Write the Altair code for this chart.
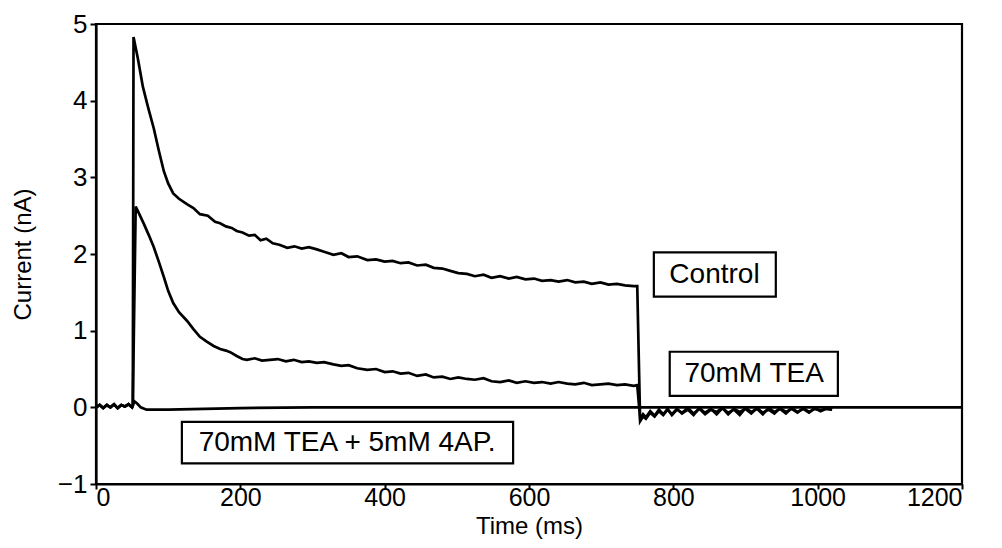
import altair as alt
import pandas as pd

# ---- data ----
base_t = [0, 5, 10, 15, 20, 25, 30, 35, 40, 45, 50]
base_v = [0.0, 0.03, -0.01, 0.03, 0.0, 0.04, -0.01, 0.03, 0.01, 0.04, 0.0]

ctrl_t = [51, 52, 58, 65, 72, 80, 87, 94, 100, 107, 115, 126, 135, 144, 155, 165, 172, 180,
          188, 195, 203, 212, 220, 228, 236, 245, 254, 265, 275, 285, 295, 306, 316, 329,
          340, 350, 362, 376, 388, 400, 411, 422, 433, 445, 457, 468, 480, 491, 502, 514,
          525, 537, 548, 560, 572, 583, 595, 607, 618, 630, 641, 653, 664, 676, 687, 699,
          710, 722, 733, 745, 750]
ctrl_v = [0.02, 4.83, 4.55, 4.18, 3.92, 3.64, 3.35, 3.08, 2.92, 2.79, 2.72, 2.65, 2.60, 2.52,
          2.50, 2.42, 2.40, 2.36, 2.34, 2.30, 2.28, 2.24, 2.25, 2.18, 2.20, 2.14, 2.12, 2.08,
          2.10, 2.07, 2.09, 2.06, 2.03, 1.99, 2.01, 1.96, 1.97, 1.92, 1.93, 1.90, 1.91, 1.88,
          1.89, 1.85, 1.86, 1.82, 1.81, 1.78, 1.75, 1.74, 1.71, 1.73, 1.69, 1.71, 1.68, 1.70,
          1.67, 1.68, 1.65, 1.66, 1.64, 1.66, 1.63, 1.64, 1.61, 1.63, 1.60, 1.61, 1.59, 1.58,
          1.58]

tea_t = [51, 55, 60, 66, 73, 80, 87, 94, 100, 107, 115, 126, 135, 144, 153, 163, 172, 180,
         186, 195, 203, 209, 220, 230, 241, 252, 263, 274, 285, 295, 306, 316, 329, 340, 350,
         362, 376, 388, 400, 411, 422, 433, 445, 457, 468, 480, 491, 502, 514, 525, 537, 548,
         560, 572, 583, 595, 607, 618, 630, 641, 653, 664, 676, 687, 699, 710, 722, 733, 745,
         750]
tea_v = [0.02, 2.62, 2.52, 2.40, 2.25, 2.09, 1.90, 1.70, 1.52, 1.36, 1.24, 1.13, 1.02, 0.92,
         0.86, 0.80, 0.76, 0.74, 0.72, 0.67, 0.63, 0.62, 0.64, 0.61, 0.62, 0.63, 0.60, 0.62,
         0.59, 0.60, 0.58, 0.59, 0.56, 0.54, 0.55, 0.51, 0.49, 0.50, 0.46, 0.47, 0.44, 0.45,
         0.41, 0.43, 0.39, 0.40, 0.37, 0.39, 0.37, 0.36, 0.38, 0.34, 0.33, 0.35, 0.32, 0.34,
         0.32, 0.33, 0.31, 0.33, 0.31, 0.30, 0.32, 0.29, 0.30, 0.31, 0.29, 0.30, 0.28, 0.29]

tail_t = [754, 758, 762, 768, 774, 780, 786, 792, 798, 805, 812, 820, 828, 836, 844, 852, 860,
          868, 876, 884, 892, 900, 908, 916, 924, 932, 940, 948, 956, 964, 972, 980, 988, 996,
          1004, 1012, 1020]
ctrl_tail_v = [-0.18, -0.12, -0.15, -0.07, -0.12, -0.05, -0.10, -0.03, -0.09, -0.02, -0.08,
               -0.03, -0.10, -0.01, -0.07, -0.02, -0.09, -0.01, -0.07, -0.03, -0.10, -0.01,
               -0.06, -0.02, -0.09, -0.01, -0.06, -0.02, -0.08, -0.01, -0.06, -0.02, -0.07,
               -0.01, -0.05, -0.02, -0.03]
tea_tail_v = [-0.15, -0.09, -0.13, -0.05, -0.11, -0.03, -0.09, -0.02, -0.10, -0.03, -0.07,
              -0.01, -0.08, -0.02, -0.09, -0.03, -0.06, -0.01, -0.09, -0.02, -0.06, -0.02,
              -0.08, -0.01, -0.07, -0.03, -0.08, -0.01, -0.06, -0.02, -0.07, -0.01, -0.06,
              -0.02, -0.04, -0.01, -0.03]

ap_t = [51, 53, 57, 62, 70, 100, 150, 200, 300, 400, 600, 800, 1000, 1200]
ap_v = [0.02, 0.08, 0.05, 0.0, -0.03, -0.03, -0.02, -0.01, 0.0, 0.0, 0.0, 0.0, 0.0, 0.0]

labels = ["Control", "70mM TEA", "70mM TEA + 5mM 4AP."]
label_x = [857, 912, 348]
label_y = [1.73, 0.44, -0.46]
box_x1 = [773, 795, 119]
box_x2 = [942, 1028, 578]
box_y1 = [2.02, 0.725, -0.19]
box_y2 = [1.445, 0.15, -0.73]

x_ticks = [0, 200, 400, 600, 800, 1000, 1200]
y_ticks = [-1, 0, 1, 2, 3, 4, 5]

# ---- build tables ----
rows = []
for name, t, v in [
    ("Control", base_t + ctrl_t + tail_t, base_v + ctrl_v + ctrl_tail_v),
    ("TEA", base_t + tea_t + tail_t, base_v + tea_v + tea_tail_v),
    ("4AP", base_t + ap_t, base_v + ap_v),
]:
    for i, (ti, vi) in enumerate(zip(t, v)):
        rows.append({"trace": name, "t": ti, "v": vi, "o": i})
df = pd.DataFrame(rows)

ann = pd.DataFrame({"label": labels, "x": label_x, "y": label_y,
                    "x1": box_x1, "x2": box_x2, "y1": box_y1, "y2": box_y2})

FONT = "Liberation Sans"

xs = alt.Scale(domain=[0, 1200], nice=False)
ys = alt.Scale(domain=[-1, 5], nice=False)

lines = alt.Chart(df).mark_line(color="black", strokeWidth=2.7).encode(
    x=alt.X("t:Q", scale=xs, title="Time (ms)",
            axis=alt.Axis(values=x_ticks, grid=False, format="d", labelFontSize=25,
                          tickSize=5, labelPadding=-4, titlePadding=4)),
    y=alt.Y("v:Q", scale=ys, title="Current (nA)",
            axis=alt.Axis(values=y_ticks, grid=False, format="d", labelFontSize=26,
                          tickSize=6, labelPadding=3, titlePadding=22)),
    detail="trace:N",
    order="o:Q",
)

boxes = alt.Chart(ann).mark_rect(fill="white", stroke="black", strokeWidth=2.2).encode(
    x="x1:Q", x2="x2:Q", y="y1:Q", y2="y2:Q"
)

texts = alt.Chart(ann).mark_text(font=FONT, fontSize=28, color="black",
                                 align="center", baseline="middle").encode(
    x="x:Q", y="y:Q", text="label:N"
)

chart = (lines + boxes + texts).properties(
    width=866, height=460,
    autosize=alt.AutoSizeParams(type="none"),
    padding={"left": 96, "top": 24, "right": 40, "bottom": 64},
).configure_view(
    stroke="black", strokeWidth=2.2
).configure_axis(
    domainColor="black", domainWidth=2.2, tickColor="black", tickWidth=2,
    labelFont=FONT, labelColor="black",
    titleFont=FONT, titleFontSize=24, titleColor="black", titleFontWeight="normal",
)

chart.save("out.html", embed_options={"renderer": "svg", "actions": False})
